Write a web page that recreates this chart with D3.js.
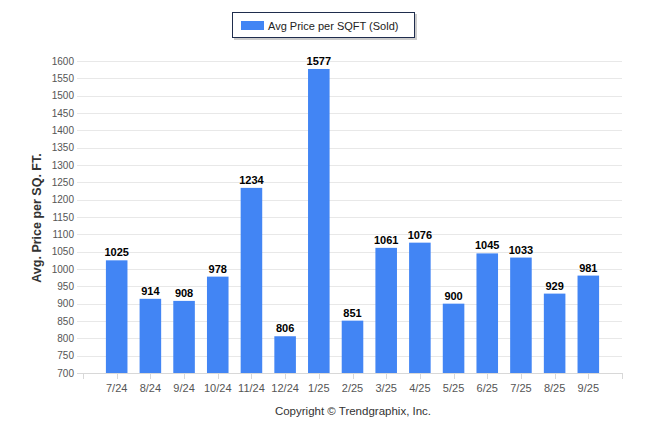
<!DOCTYPE html>
<html>
<head>
<meta charset="utf-8">
<script src="https://cdn.jsdelivr.net/npm/d3@7"></script>
<style>
  body { margin: 0; background: #fff; }
  text { font-family: "Liberation Sans", Arial, sans-serif; }
</style>
</head>
<body>
<div id="chart"></div>
<script>
const months = ["7/24", "8/24", "9/24", "10/24", "11/24", "12/24", "1/25", "2/25", "3/25", "4/25", "5/25", "6/25", "7/25", "8/25", "9/25"]
const avgPrice = [1025, 914, 908, 978, 1234, 806, 1577, 851, 1061, 1076, 900, 1045, 1033, 929, 981]
const yTicks = d3.range(700, 1601, 50)

const width = 646
const height = 434
const plotL = 83, plotR = 622, plotT = 61, plotB = 373

const svg = d3.select("#chart").append("svg")
  .attr("width", width)
  .attr("height", height)

const x = d3.scalePoint().domain(months).range([plotL, plotR]).padding(1)
const y = d3.scaleLinear().domain([700, 1600]).range([plotB, plotT])
const barW = x.step() * 0.64

// gridlines + y labels
svg.append("g")
  .selectAll("line")
  .data(yTicks)
  .join("line")
    .attr("x1", plotL - 6)
    .attr("x2", plotR)
    .attr("y1", d => Math.round(y(d)) + 0.5)
    .attr("y2", d => Math.round(y(d)) + 0.5)
    .attr("stroke", d => d == 700 ? "#d8d8d8" : "#e8e8e8")

svg.append("g")
  .selectAll("text")
  .data(yTicks)
  .join("text")
    .attr("x", plotL - 9)
    .attr("y", d => y(d) + 3.5)
    .attr("text-anchor", "end")
    .attr("font-size", "10px")
    .attr("fill", "#555")
    .text(d => d)

// x axis ticks
const xt = [plotL].concat(months.map(m => x(m)), [plotR])
svg.append("g")
  .selectAll("line")
  .data(xt)
  .join("line")
    .attr("x1", d => Math.round(d) + 0.5)
    .attr("x2", d => Math.round(d) + 0.5)
    .attr("y1", plotB)
    .attr("y2", plotB + 6)
    .attr("stroke", "#d8d8d8")

svg.append("g")
  .selectAll("text")
  .data(months)
  .join("text")
    .attr("x", d => x(d))
    .attr("y", plotB + 19)
    .attr("text-anchor", "middle")
    .attr("font-size", "11px")
    .attr("fill", "#555")
    .text(d => d)

// bars
svg.append("g")
  .selectAll("rect")
  .data(avgPrice)
  .join("rect")
    .attr("x", (d, i) => x(months[i]) - barW / 2)
    .attr("width", barW)
    .attr("y", d => y(d))
    .attr("height", d => plotB - y(d))
    .attr("fill", "#4285f4")

svg.append("g")
  .selectAll("text")
  .data(avgPrice)
  .join("text")
    .attr("x", (d, i) => x(months[i]))
    .attr("y", d => y(d) - 4)
    .attr("text-anchor", "middle")
    .attr("font-size", "11px")
    .attr("font-weight", "bold")
    .attr("fill", "#000")
    .text(d => d)

// y title
svg.append("text")
  .attr("transform", "translate(41,218) rotate(-90)")
  .attr("text-anchor", "middle")
  .attr("font-size", "12.5px")
  .attr("font-weight", "bold")
  .attr("fill", "#333")
  .text("Avg. Price per SQ. FT.")

// legend
const lg = svg.append("g")
lg.append("rect")
  .attr("x", 234).attr("y", 14).attr("width", 183).attr("height", 26)
  .attr("fill", "#999").attr("opacity", 0.5)
lg.append("rect")
  .attr("x", 232.5).attr("y", 12.5).attr("width", 182).attr("height", 25)
  .attr("fill", "#fff").attr("stroke", "#1f2d4d")
lg.append("rect")
  .attr("x", 241).attr("y", 21).attr("width", 23).attr("height", 9)
  .attr("fill", "#4285f4")
lg.append("text")
  .attr("x", 268).attr("y", 30)
  .attr("font-size", "11px")
  .attr("fill", "#222")
  .text("Avg Price per SQFT (Sold)")

// copyright
svg.append("text")
  .attr("x", 353)
  .attr("y", 415)
  .attr("text-anchor", "middle")
  .attr("font-size", "11.5px")
  .attr("fill", "#333")
  .text("Copyright \u00a9 Trendgraphix, Inc.")
</script>
</body>
</html>
